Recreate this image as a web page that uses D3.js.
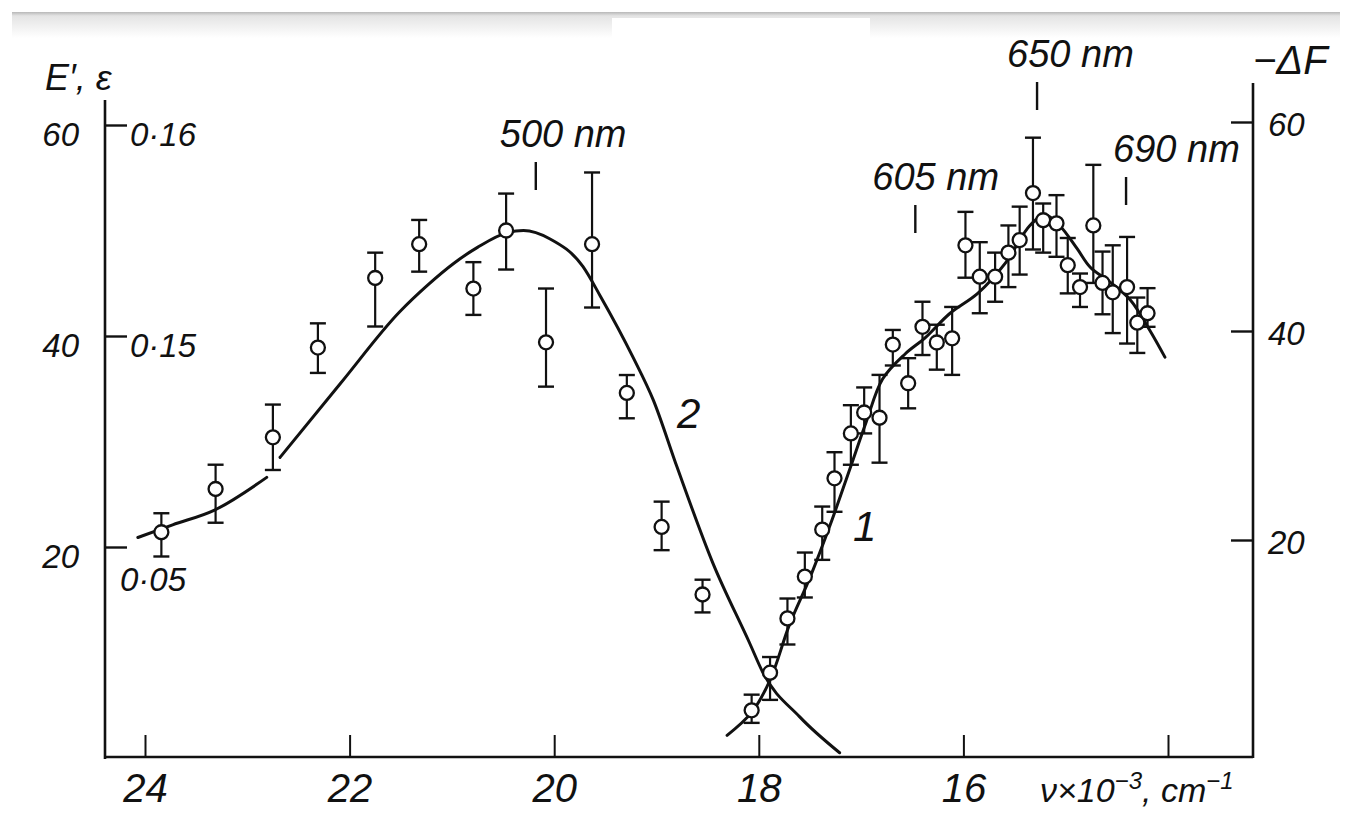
<!DOCTYPE html>
<html>
<head>
<meta charset="utf-8">
<script src="https://cdn.jsdelivr.net/npm/d3@7"></script>
<style>
  body { margin: 0; background: #fff; }
  svg { display: block; }
  text { font-family: 'Liberation Sans', 'DejaVu Sans', sans-serif; font-style: italic; fill: #111; }
</style>
</head>
<body>
<svg></svg>
<script>
const d3 = window.d3

// axis ticks
const xTicks = [24, 22, 20, 18, 16, 14]
const xTickLabels = ['24', '22', '20', '18', '16', '']
const leftTicks = [20, 40, 60]
const epsLabels = ['0·05', '0·15', '0·16']
const rightTicks = [20, 40, 60]

// curve 2 : E' (left axis), points with error bars
const nu2 = [23.84, 23.31, 22.75, 22.31, 21.75, 21.32, 20.79, 20.47, 20.08, 19.63, 19.29, 18.95, 18.55]
const e2 = [21.4, 25.5, 30.4, 38.9, 45.5, 48.7, 44.5, 50.0, 39.4, 48.7, 34.6, 21.9, 15.5]
const e2Hi = [23.2, 27.8, 33.5, 41.2, 47.9, 51.0, 47.0, 53.5, 44.5, 55.5, 36.3, 24.3, 16.9]
const e2Lo = [19.1, 22.3, 27.3, 36.5, 40.9, 46.1, 42.0, 46.3, 35.2, 42.7, 32.2, 19.7, 13.8]

// curve 2 : absorption line epsilon (drawn in two pieces)
const fit2aNu = [24.07, 23.73, 23.32, 22.81]
const fit2aE = [20.9, 22.1, 23.5, 26.6]
const fit2bNu = [22.68, 22.09, 21.51, 21.24, 20.98, 20.75, 20.46, 20.30, 20.04, 19.72, 19.55, 19.23, 19.03, 18.80, 18.45, 18.09, 17.96, 17.60, 17.21]
const fit2bE = [28.5, 35.5, 42.3, 44.8, 46.9, 48.4, 49.8, 50.0, 49.2, 46.6, 43.8, 38.0, 33.9, 27.6, 18.5, 10.9, 8.1, 3.9, 0.5]

// curve 1 : -dF (right axis), points with error bars
const nu1 = [18.07, 17.89, 17.72, 17.55, 17.38, 17.26, 17.10, 16.97, 16.82, 16.69, 16.54, 16.40, 16.26, 16.11, 15.98,
             15.84, 15.69, 15.56, 15.45, 15.32, 15.22, 15.09, 14.98, 14.86, 14.73, 14.64, 14.54, 14.40, 14.30, 14.20]
const dF1 = [3.7, 7.3, 12.5, 16.5, 21.0, 25.9, 30.2, 32.2, 31.7, 38.7, 35.0, 40.4, 38.9, 39.3, 48.2,
             45.2, 45.2, 47.5, 48.7, 53.2, 50.6, 50.3, 46.3, 44.2, 50.1, 44.6, 43.7, 44.2, 40.8, 41.7]
const dF1Hi = [5.2, 8.8, 14.4, 18.8, 23.2, 28.4, 32.9, 34.6, 35.8, 40.1, 37.4, 42.8, 40.6, 42.3, 51.4,
               48.5, 47.5, 50.1, 51.9, 58.5, 52.2, 53.0, 48.9, 45.5, 55.9, 47.6, 48.2, 49.0, 43.2, 44.1]
const dF1Lo = [2.5, 4.7, 10.0, 14.5, 18.1, 22.7, 27.2, 30.2, 27.4, 36.7, 32.6, 37.7, 36.3, 35.8, 45.1,
               41.7, 42.8, 44.2, 45.4, 47.8, 47.5, 47.1, 43.6, 42.3, 44.6, 41.6, 39.8, 38.8, 37.9, 40.4]

const fit1Nu = [18.31, 18.07, 17.89, 17.70, 17.50, 17.30, 17.11, 16.95, 16.79, 16.57, 16.38, 16.13, 15.86, 15.59,
                15.35, 15.20, 15.06, 14.89, 14.76, 14.57, 14.37, 14.18, 14.03]
const fit1F = [1.3, 3.5, 6.6, 11.9, 16.4, 21.5, 26.8, 31.3, 35.4, 37.8, 39.3, 41.7, 43.6, 46.5,
               50.1, 51.1, 50.1, 47.9, 46.1, 44.7, 43.0, 40.1, 37.5]

// wavelength markers
const markerNu = [20.18, 16.47, 15.28, 14.41]
const markerText = ['500 nm', '605 nm', '650 nm', '690 nm']

// layout (pixels)
let width = 1353
let height = 829
let axisY = 757
let leftX = 105
let rightX = 1253
let markerTop = [162, 205, 82, 177]
let markerTextShift = [-36, -43, -30, -13]

let xScale = d3.scaleLinear().domain([24, 14]).range([145, 1168])
let yLeft = d3.scaleLinear().domain([20, 60]).range([547, 125])
let yRight = d3.scaleLinear().domain([20, 60]).range([540, 122])

let svg = d3.select('svg')
    .attr('width', width)
    .attr('height', height)

// scanned page edge at the top
let grad = svg.append('defs')
  .append('linearGradient')
    .attr('id', 'edge')
    .attr('x1', 0).attr('y1', 0).attr('x2', 0).attr('y2', 1)
grad.append('stop').attr('offset', '0%').attr('stop-color', '#b8b8b8')
grad.append('stop').attr('offset', '15%').attr('stop-color', '#e4e4e4')
grad.append('stop').attr('offset', '100%').attr('stop-color', '#ffffff')

svg.append('rect')
    .attr('x', 12).attr('y', 12)
    .attr('width', 1328).attr('height', 26)
    .attr('fill', 'url(#edge)')
svg.append('rect')
    .attr('x', 612).attr('y', 18)
    .attr('width', 258).attr('height', 20)
    .attr('fill', '#fff')

// axes lines
let frame = svg.append('g')
    .attr('stroke', '#111')
    .attr('stroke-width', 2.6)
    .attr('fill', 'none')
frame.append('line').attr('x1', leftX).attr('y1', 100).attr('x2', leftX).attr('y2', axisY + 2)
frame.append('line').attr('x1', leftX).attr('y1', axisY).attr('x2', rightX).attr('y2', axisY)
frame.append('line').attr('x1', rightX).attr('y1', 83).attr('x2', rightX).attr('y2', axisY + 1)

let xAxis = d3.axisBottom(xScale)
              .tickValues(xTicks)
              .tickFormat((d, i) => xTickLabels[i])
              .tickSize(-22)
              .tickSizeOuter(0)
              .tickPadding(16)

svg.append('g')
    .attr('transform', `translate(0, ${axisY})`)
    .call(xAxis)
    .call(g => g.select('.domain').remove())
    .call(g => g.selectAll('line').attr('stroke', '#111').attr('stroke-width', 2))
    .call(g => g.selectAll('text')
      .attr('fill', '#111')
      .style('font-family', null)
      .style('font-size', '40px')
      .attr('dy', '0.72em'))

let leftAxis = d3.axisLeft(yLeft)
                 .tickValues(leftTicks)
                 .tickSize(-22)
                 .tickSizeOuter(0)
                 .tickPadding(26)

svg.append('g')
    .attr('transform', `translate(${leftX}, 0)`)
    .call(leftAxis)
    .call(g => g.select('.domain').remove())
    .call(g => g.selectAll('line').attr('stroke', '#111').attr('stroke-width', 2.4))
    .call(g => g.selectAll('text')
      .attr('fill', '#111')
      .style('font-size', '33px')
      .attr('dy', '0.62em'))

// epsilon scale labels inside the left axis
svg.append('g')
  .selectAll('text')
  .data(leftTicks)
  .enter()
  .append('text')
    .attr('x', (d, i) => i === 0 ? leftX + 15 : leftX + 25)
    .attr('y', (d, i) => yLeft(d) + (i === 0 ? 44 : 21))
    .style('font-size', '33px')
    .text((d, i) => epsLabels[i])

let rightAxis = d3.axisRight(yRight)
                  .tickValues(rightTicks)
                  .tickSize(-22)
                  .tickSizeOuter(0)
                  .tickPadding(15)

svg.append('g')
    .attr('transform', `translate(${rightX}, 0)`)
    .call(rightAxis)
    .call(g => g.select('.domain').remove())
    .call(g => g.selectAll('line').attr('stroke', '#111').attr('stroke-width', 2.4))
    .call(g => g.selectAll('text')
      .attr('fill', '#111')
      .style('font-size', '33px')
      .attr('dy', '0.42em'))

// curves
let lineL = d3.line()
              .x(d => xScale(d[0]))
              .y(d => yLeft(d[1]))
              .curve(d3.curveMonotoneX)
let lineR = d3.line()
              .x(d => xScale(d[0]))
              .y(d => yRight(d[1]))
              .curve(d3.curveCatmullRom)

let curves = svg.append('g')
    .attr('fill', 'none')
    .attr('stroke', '#111')
    .attr('stroke-width', 3)
    .attr('stroke-linecap', 'round')
curves.append('path').attr('d', lineL(d3.zip(fit2aNu, fit2aE)))
curves.append('path').attr('d', lineL(d3.zip(fit2bNu, fit2bE)))
curves.append('path').attr('d', lineR(d3.zip(fit1Nu, fit1F)))

// error bars + open circles
function drawPoints (nu, val, hi, lo, y) {
  let g = svg.append('g')
  let pts = d3.range(nu.length)
  let cap = 8

  g.selectAll('line.bar')
    .data(pts)
    .enter()
    .append('line')
      .attr('x1', i => xScale(nu[i]))
      .attr('x2', i => xScale(nu[i]))
      .attr('y1', i => y(hi[i]))
      .attr('y2', i => y(lo[i]))
      .attr('stroke', '#111')
      .attr('stroke-width', 2.2)

  ;[hi, lo].forEach(arr => {
    g.selectAll(null)
      .data(pts)
      .enter()
      .append('line')
        .attr('x1', i => xScale(nu[i]) - cap)
        .attr('x2', i => xScale(nu[i]) + cap)
        .attr('y1', i => y(arr[i]))
        .attr('y2', i => y(arr[i]))
        .attr('stroke', '#111')
        .attr('stroke-width', 2.4)
  })

  g.selectAll('circle')
    .data(pts)
    .enter()
    .append('circle')
      .attr('cx', i => xScale(nu[i]))
      .attr('cy', i => y(val[i]))
      .attr('r', 7)
      .attr('fill', '#fff')
      .attr('stroke', '#111')
      .attr('stroke-width', 2.3)
}

drawPoints(nu2, e2, e2Hi, e2Lo, yLeft)
drawPoints(nu1, dF1, dF1Hi, dF1Lo, yRight)

// wavelength markers
let marks = svg.append('g')
marks.selectAll('line')
  .data(markerNu)
  .enter()
  .append('line')
    .attr('x1', d => xScale(d))
    .attr('x2', d => xScale(d))
    .attr('y1', (d, i) => markerTop[i])
    .attr('y2', (d, i) => markerTop[i] + 28)
    .attr('stroke', '#111')
    .attr('stroke-width', 2.4)
marks.selectAll('text')
  .data(markerNu)
  .enter()
  .append('text')
    .attr('x', (d, i) => xScale(d) + markerTextShift[i])
    .attr('y', (d, i) => markerTop[i] - 15)
    .style('font-size', '38px')
    .text((d, i) => markerText[i])

// curve numbers
svg.append('text')
    .attr('x', 677).attr('y', 428)
    .style('font-size', '42px')
    .text('2')
svg.append('text')
    .attr('x', 853).attr('y', 541)
    .style('font-size', '42px')
    .text('1')

// axis titles
svg.append('text')
    .attr('x', 45).attr('y', 90)
    .style('font-size', '36px')
    .text('E′, ε')

svg.append('text')
    .attr('x', 1253).attr('y', 74)
    .style('font-size', '40px')
    .text('−ΔF')

let xTitle = svg.append('text')
    .attr('x', 1040).attr('y', 802)
    .style('font-size', '34px')
xTitle.append('tspan').text('ν×10')
xTitle.append('tspan').attr('dy', -13).style('font-size', '24px').text('−3')
xTitle.append('tspan').attr('dy', 13).text(', cm')
xTitle.append('tspan').attr('dy', -13).style('font-size', '24px').text('−1')
</script>
</body>
</html>
